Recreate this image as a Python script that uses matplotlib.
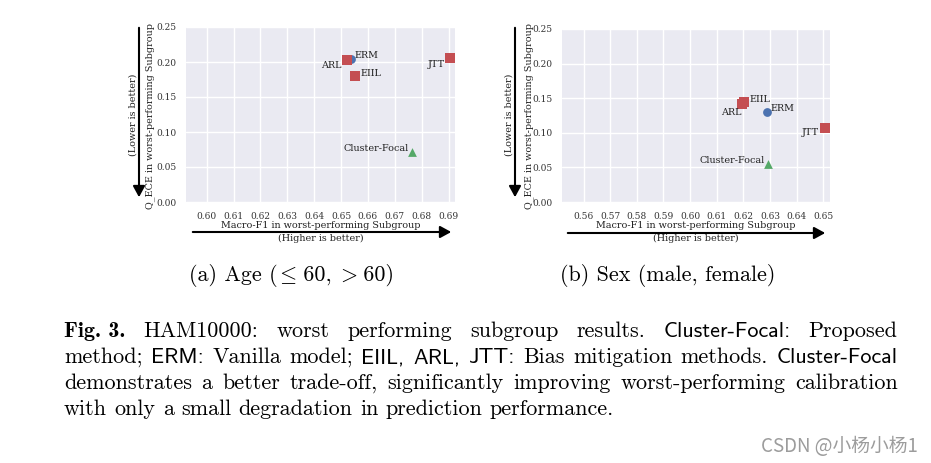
import matplotlib
matplotlib.use("Agg")
import matplotlib.pyplot as plt
import seaborn as sns
from matplotlib.patches import FancyArrowPatch

# values
methods = ["ERM", "ARL", "EIIL", "JTT", "Cluster-Focal"]
age_f1 = [0.6536, 0.6523, 0.6553, 0.6906, 0.6763]
age_ece = [0.2046, 0.2022, 0.1802, 0.2055, 0.0717]
sex_f1 = [0.6288, 0.6196, 0.6204, 0.6506, 0.6291]
sex_ece = [0.1303, 0.1419, 0.1438, 0.1071, 0.0556]
age_xticks = [0.60, 0.61, 0.62, 0.63, 0.64, 0.65, 0.66, 0.67, 0.68, 0.69]
sex_xticks = [0.56, 0.57, 0.58, 0.59, 0.60, 0.61, 0.62, 0.63, 0.64, 0.65]
yticks = [0.00, 0.05, 0.10, 0.15, 0.20, 0.25]

subcaption_a = [("(a) Age (", "cmr10"), (r"$\leq$", "cmr10"), (" 60, ", "cmr10"), (r"$>$", "cmr10"), (" 60)", "cmr10")]
subcaption_b = [("(b) Sex (male, female)", "cmr10")]

caption_lines = [
    [("Fig. 3.", "cmb10"), ("HAM10000:", "cmr10"), ("worst", "cmr10"), ("performing", "cmr10"),
     ("subgroup", "cmr10"), ("results.", "cmr10"), ("Cluster-Focal:", "cmss10"), ("Proposed", "cmr10")],
    [("method;", "cmr10"), ("ERM:", "cmss10"), ("Vanilla", "cmr10"), ("model;", "cmr10"),
     ("EIIL,", "cmss10"), ("ARL,", "cmss10"), ("JTT:", "cmss10"), ("Bias", "cmr10"),
     ("mitigation", "cmr10"), ("methods.", "cmr10"), ("Cluster-Focal", "cmss10")],
    [(w, "cmr10") for w in "demonstrates a better trade-off, significantly improving worst-performing calibration".split()],
    [(w, "cmr10") for w in "with only a small degradation in prediction performance.".split()],
]

style = {
    "ERM": ("o", "#4C72B0"),
    "ARL": ("s", "#C44E52"),
    "EIIL": ("s", "#C44E52"),
    "JTT": ("s", "#C44E52"),
    "Cluster-Focal": ("^", "#55A868"),
}
# label placement (offset pixels, ha)
age_offsets = {"ERM": (4, 3, "left"), "ARL": (-6, -5, "right"), "EIIL": (5, 2, "left"),
               "JTT": (-5, -6, "right"), "Cluster-Focal": (-3, 3, "right")}
sex_offsets = {"ERM": (4, 3, "left"), "ARL": (-1, -9, "right"), "EIIL": (5, 3, "left"),
               "JTT": (-6, -5, "right"), "Cluster-Focal": (-3, 3, "right")}

sns.set_style("darkgrid")
plt.rcParams["font.family"] = "DejaVu Serif"
plt.rcParams["mathtext.fontset"] = "cm"

W, H = 931, 463
fig = plt.figure(figsize=(W / 100, H / 100), dpi=100, facecolor="white")


def fx(px):
    return px / W


def fy(py):
    return 1 - py / H


def panel(left, right, top, bottom, f1, ece, xticks, xlim, offsets):
    ax = fig.add_axes([fx(left), fy(bottom), fx(right - left), (bottom - top) / H])
    ax.set_facecolor("#EAEAF2")
    for m, x, y in zip(methods, f1, ece):
        mk, c = style[m]
        ax.scatter([x], [y], marker=mk, color=c, s=55 if mk == "s" else 40, zorder=3 if mk != "o" else 2,
                   linewidths=0)
        dx, dy, ha = offsets[m]
        ax.annotate(m, (x, y), xytext=(dx, dy), textcoords="offset pixels", ha=ha, va="center",
                    fontsize=6.9, color="#222222")
    ax.set_xlim(*xlim)
    ax.set_ylim(0, 0.25)
    ax.set_xticks(xticks)
    ax.set_yticks(yticks)
    ax.set_xticklabels([f"{t:.2f}" for t in xticks])
    ax.set_yticklabels([f"{t:.2f}" for t in yticks])
    ax.tick_params(labelsize=6.5, colors="#333333", pad=3.5)
    ax.grid(True, color="white", lw=1.0)
    for s in ax.spines.values():
        s.set_visible(False)
    return ax


panel(186, 455, 27, 202, age_f1, age_ece, age_xticks, (0.5923, 0.6924), age_offsets)
panel(562, 830, 29, 202, sex_f1, sex_ece, sex_xticks, (0.5519, 0.6525), sex_offsets)


def arrow(x0, y0, x1, y1):
    fig.add_artist(FancyArrowPatch((fx(x0), fy(y0)), (fx(x1), fy(y1)), transform=fig.transFigure,
                                   arrowstyle="-|>,head_length=0.55,head_width=0.3", mutation_scale=12,
                                   lw=1.5, color="black"))


# axis labels with direction arrows
for qx, lx, ax_x, hx, ay, xl0, xl1 in [(150, 133, 139, 321, 232, 190, 454), (529, 509, 515, 696, 233, 565, 828)]:
    fig.text(fx(qx), fy(116), "Q_ECE in worst-performing Subgroup", rotation=90, ha="center", va="center",
             fontsize=6.9, color="#222222")
    fig.text(fx(lx), fy(115), "(Lower is better)", rotation=90, ha="center", va="center",
             fontsize=6.9, color="#222222")
    arrow(ax_x, 25, ax_x, 200)
    fig.text(fx(hx), fy(226), "Macro-F1 in worst-performing Subgroup", ha="center", va="center",
             fontsize=6.9, color="#222222")
    fig.text(fx(hx), fy(238.5), "(Higher is better)", ha="center", va="center",
             fontsize=6.9, color="#222222")
    arrow(xl0, ay, xl1, ay)

cap_size = 15.9
fig.canvas.draw()
renderer = fig.canvas.get_renderer()


def run(pieces, y, x0=None, xc=None, x1=None, gap=0.0, kerns=None):
    texts = [fig.text(0, fy(y), w, fontfamily=f, fontsize=cap_size, va="baseline", color="black")
             for w, f in pieces]
    widths = [t.get_window_extent(renderer).width for t in texts]
    if kerns is None:
        kerns = [0] * len(texts)
    total = sum(widths) + sum(kerns)
    if x1 is not None:
        gap = (x1 - x0 - total) / (len(texts) - 1)
    if xc is not None:
        x0 = xc - (total + gap * (len(texts) - 1)) / 2
    x = x0
    for t, w, k in zip(texts, widths, kerns):
        x += k
        t.set_x(fx(x))
        x += w + gap


# tighten the joins between the plain text and the math signs
run(subcaption_a, 281, xc=291.5, kerns=[0, -1.5, -2, -2, -2])
run(subcaption_b, 281, xc=668)

# justified caption paragraph
X0, X1 = 64, 897.5
baselines = [337, 363, 389, 415]
for i, (words, yb) in enumerate(zip(caption_lines, baselines)):
    if i < len(caption_lines) - 1:
        run(words, yb, x0=X0, x1=X1)
    else:
        run(words, yb, x0=X0, gap=cap_size * 100 / 72 * 0.333)

fig.text(fx(918), fy(446), "CSDN @小杨小杨1", ha="right", va="center", fontsize=13.5, color="#9c9c9c",
         family=["Noto Sans CJK SC", "DejaVu Sans"])

fig.savefig("out.png", dpi=100, facecolor="white")
